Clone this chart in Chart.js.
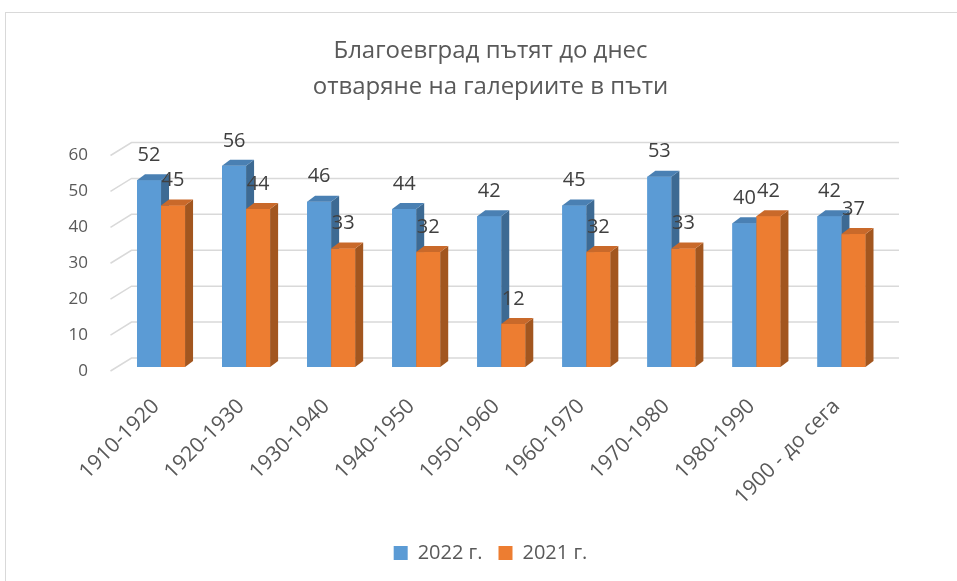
<!DOCTYPE html>
<html>
<head>
<meta charset="utf-8">
<script src="https://cdn.jsdelivr.net/npm/chart.js@4.4.1/dist/chart.umd.min.js"></script>
<style>
  html, body { margin: 0; padding: 0; background: #fff; overflow: hidden; }
  #frame { position: absolute; left: 5px; top: 12px; width: 1000px; height: 700px; border: 1px solid #d9d9d9; }
  #wrap { position: absolute; left: 0; top: 0; width: 957px; height: 581px; }
</style>
</head>
<body>
<div id="frame"></div>
<div id="wrap"><canvas id="barChart" width="957" height="581"></canvas></div>
<script>
// data
const categories = ['1910-1920', '1920-1930', '1930-1940', '1940-1950', '1950-1960', '1960-1970', '1970-1980', '1980-1990', '1900 - до сега'];
const seriesNames = ['2022 г.', '2021 г.'];
const values2022 = [52, 56, 46, 44, 42, 45, 53, 40, 42];
const values2021 = [45, 44, 33, 32, 12, 32, 33, 42, 37];
const yTicks = [0, 10, 20, 30, 40, 50, 60];
const titleLines = ['Благоевград пътят до днес', 'отваряне на галериите в пъти'];

const FONT = "'Open Sans', sans-serif";
const textColor = '#595959';
const frontColors = ['#5b9bd5', '#ed7d31'];
const sideColors = ['#3d6a93', '#a2561f'];
const topColors = ['#4a80b3', '#c9692a'];
const depthX = 8, depthY = 6; // bar depth
const yFontSize = 17;

// y labels are mirrored so they are not clipped by the narrow axis box;
// measure the widest one so they still end at the same right edge
const mctx = document.createElement('canvas').getContext('2d');
mctx.font = yFontSize + 'px ' + FONT;
const widestY = Math.max(...yTicks.map(v => mctx.measureText(String(v)).width));

// back wall gridlines (3D look)
const gridPlugin = {
  id: 'grid3d',
  beforeDatasetsDraw(chart) {
    const ctx = chart.ctx, y = chart.scales.y, area = chart.chartArea;
    ctx.save();
    ctx.strokeStyle = '#d9d9d9';
    ctx.lineWidth = 1.5;
    yTicks.forEach(v => {
      const py = y.getPixelForValue(v);
      ctx.beginPath();
      ctx.moveTo(area.left - 8, py + 4);
      ctx.lineTo(area.left + 13, py - 9);
      ctx.lineTo(area.right + 15, py - 9);
      ctx.stroke();
    });
    ctx.restore();
  }
};

// bars with side + top faces, then the value labels
const barsPlugin = {
  id: 'bars3d',
  afterDatasetsDraw(chart) {
    const ctx = chart.ctx;
    const metas = [chart.getDatasetMeta(0), chart.getDatasetMeta(1)];
    ctx.save();
    for (let i = 0; i < categories.length; i++) {
      metas.forEach((meta, d) => {
        const b = meta.data[i].getProps(['x', 'y', 'base', 'width'], true);
        const l = b.x - b.width / 2, r = b.x + b.width / 2;
        ctx.fillStyle = frontColors[d];
        ctx.fillRect(l, b.y, b.width, b.base - b.y);
        ctx.fillStyle = sideColors[d];
        ctx.beginPath();
        ctx.moveTo(r, b.y); ctx.lineTo(r + depthX, b.y - depthY);
        ctx.lineTo(r + depthX, b.base - depthY); ctx.lineTo(r, b.base);
        ctx.closePath(); ctx.fill();
        ctx.fillStyle = topColors[d];
        ctx.beginPath();
        ctx.moveTo(l, b.y); ctx.lineTo(l + depthX, b.y - depthY);
        ctx.lineTo(r + depthX, b.y - depthY); ctx.lineTo(r, b.y);
        ctx.closePath(); ctx.fill();
      });
    }
    ctx.fillStyle = '#404040';
    ctx.font = '20px ' + FONT;
    ctx.textAlign = 'center';
    ctx.textBaseline = 'middle';
    metas.forEach((meta, d) => {
      const vals = chart.data.datasets[d].data;
      meta.data.forEach((bar, i) => {
        const b = bar.getProps(['x', 'y'], true);
        ctx.fillText(String(vals[i]), b.x, b.y - 25);
      });
    });
    ctx.restore();
  }
};

const chart = new Chart(document.getElementById('barChart'), {
  type: 'bar',
  data: {
    labels: categories,
    datasets: [
      { label: seriesNames[0], data: values2022, backgroundColor: frontColors[0] },
      { label: seriesNames[1], data: values2021, backgroundColor: frontColors[1] }
    ]
  },
  options: {
    responsive: false,
    animation: false,
    devicePixelRatio: 1,
    categoryPercentage: 0.565,
    barPercentage: 1,
    layout: { padding: { left: 97, right: 73, top: 0, bottom: 8 } },
    plugins: {
      tooltip: { enabled: false },
      title: {
        display: true,
        text: titleLines,
        color: textColor,
        font: { family: FONT, size: 24, weight: 'normal', lineHeight: 1.5 },
        padding: { top: 33, bottom: 46.5 }
      },
      legend: {
        position: 'bottom',
        labels: {
          color: textColor,
          font: { family: FONT, size: 20 },
          boxWidth: 14, boxHeight: 14,
          padding: 16
        }
      }
    },
    scales: {
      x: {
        grid: { display: false, drawTicks: false },
        border: { display: false },
        ticks: {
          color: textColor,
          font: { family: FONT, size: 21 },
          maxRotation: 45, minRotation: 45,
          autoSkip: false,
          padding: 27,
          labelOffset: -5
        },
        afterFit(scale) { scale.height = 160; }
      },
      y: {
        min: 0, max: 60,
        grid: { display: false, drawTicks: false },
        border: { display: false },
        ticks: {
          stepSize: 10,
          color: textColor,
          font: { family: FONT, size: yFontSize },
          mirror: true,
          crossAlign: 'far',
          padding: -30.5 - widestY,
          labelOffset: 4
        },
        afterFit(scale) { scale.width = 21.5; }
      }
    }
  },
  plugins: [gridPlugin, barsPlugin]
});
</script>
</body>
</html>
